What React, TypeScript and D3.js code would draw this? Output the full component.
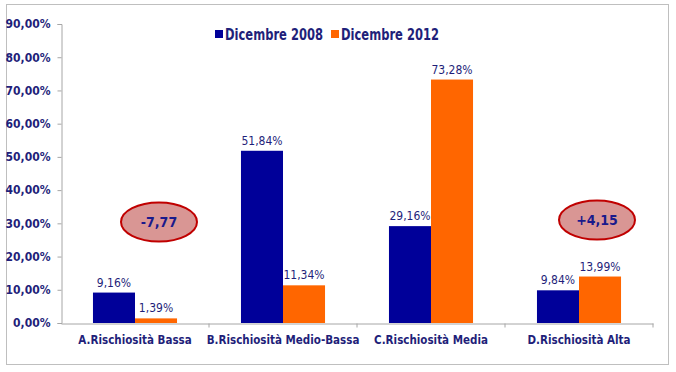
import React, { useEffect, useRef } from 'react';
import * as d3 from 'd3';

const categories = ['A.Rischiosità Bassa', 'B.Rischiosità Medio-Bassa', 'C.Rischiosità Media', 'D.Rischiosità Alta'];
const seriesNames = ['Dicembre 2008', 'Dicembre 2012'];
const dec2008 = [9.16, 51.84, 29.16, 9.84];
const dec2012 = [1.39, 11.34, 73.28, 13.99];
const yTicks = [0, 10, 20, 30, 40, 50, 60, 70, 80, 90];
const deltaLabels = ['-7,77', '+4,15'];
const deltaCategories = ['A.Rischiosità Bassa', 'D.Rischiosità Alta'];

const colors = ['#000099', '#FF6600'];
const textColor = '#1F1F7A';
const font = '"DejaVu Sans Condensed", "DejaVu Sans", sans-serif';

const fmt = (v: number) => v.toFixed(2).replace('.', ',') + '%';

const App: React.FC = () => {
  const ref = useRef<SVGSVGElement>(null);

  useEffect(() => {
    if (!ref.current) return;
    const svg = d3.select(ref.current);
    svg.selectAll('*').remove();

    const W = 676, H = 372;
    const plot = { left: 61, right: 653, top: 24, bottom: 323 };

    // chart frame
    svg.append('rect')
      .attr('x', 6.5).attr('y', 4.5)
      .attr('width', 662).attr('height', 360)
      .attr('fill', '#fff')
      .attr('stroke', '#BFBFBF')
      .attr('stroke-width', 1);

    const x = d3.scaleBand()
      .domain(categories)
      .range([plot.left, plot.right]);

    const y = d3.scaleLinear()
      .domain([0, 90])
      .range([plot.bottom, plot.top]);

    const barW = x.bandwidth() * 0.284;

    // y axis
    const yAxis = svg.append('g')
      .attr('transform', `translate(${plot.left + 0.5},0)`)
      .call(d3.axisLeft(y).tickValues(yTicks).tickSize(4).tickFormat(d => fmt(d as number)));
    yAxis.select('.domain').attr('stroke', '#A6A6A6');
    yAxis.selectAll('.tick line').attr('stroke', '#A6A6A6');
    yAxis.selectAll('.tick text')
      .attr('x', -11)
      .attr('fill', textColor)
      .style('font-family', font)
      .style('font-size', '12px')
      .style('font-weight', 'bold');

    // x axis
    const xAxis = svg.append('g')
      .attr('transform', `translate(0,${plot.bottom + 0.5})`)
      .call(d3.axisBottom(x).tickSize(0).tickSizeOuter(0));
    xAxis.select('.domain').attr('stroke', '#A6A6A6');
    xAxis.selectAll('.tick text')
      .attr('y', 12)
      .attr('fill', textColor)
      .style('font-family', font)
      .style('font-size', '11.5px')
      .style('font-weight', 'bold');
    // category separators
    xAxis.selectAll('.sep')
      .data(categories)
      .enter()
      .append('line')
      .attr('x1', d => (x(d) as number) + x.bandwidth())
      .attr('x2', d => (x(d) as number) + x.bandwidth())
      .attr('y1', 0).attr('y2', 4)
      .attr('stroke', '#A6A6A6');

    // bars
    const series = [dec2008, dec2012];
    series.forEach((vals, si) => {
      const g = svg.append('g');
      g.selectAll('rect')
        .data(vals)
        .enter()
        .append('rect')
        .attr('x', (_, i) => (x(categories[i]) as number) + x.bandwidth() / 2 - barW + si * barW)
        .attr('width', barW)
        .attr('y', d => y(d))
        .attr('height', d => y(0) - y(d))
        .attr('fill', colors[si]);

      g.selectAll('text')
        .data(vals)
        .enter()
        .append('text')
        .attr('x', (_, i) => (x(categories[i]) as number) + x.bandwidth() / 2 - barW / 2 + si * barW)
        .attr('y', d => y(d) - 6)
        .attr('text-anchor', 'middle')
        .attr('fill', textColor)
        .style('font-family', font)
        .style('font-size', '12px')
        .text(d => fmt(d));
    });

    // legend
    const legend = svg.append('g');
    const legendX = [215, 331];
    seriesNames.forEach((name, i) => {
      legend.append('rect')
        .attr('x', legendX[i]).attr('y', 30)
        .attr('width', 8).attr('height', 8)
        .attr('fill', colors[i]);
      legend.append('text')
        .attr('x', legendX[i] + 10).attr('y', 39.5)
        .attr('textLength', 98)
        .attr('lengthAdjust', 'spacingAndGlyphs')
        .attr('fill', textColor)
        .style('font-family', font)
        .style('font-size', '15px')
        .style('font-weight', 'bold')
        .text(name);
    });

    // delta bubbles
    const offsets = [24, 18];
    const levels = [30.4, 31];
    deltaLabels.forEach((lab, i) => {
      const cx = (x(deltaCategories[i]) as number) + x.bandwidth() / 2 + offsets[i];
      const cy = y(levels[i]);
      svg.append('ellipse')
        .attr('cx', cx).attr('cy', cy)
        .attr('rx', 38).attr('ry', 19.5)
        .attr('fill', '#D99694')
        .attr('stroke', '#C00000')
        .attr('stroke-width', 2);
      svg.append('text')
        .attr('x', cx).attr('y', cy + 5)
        .attr('text-anchor', 'middle')
        .attr('fill', '#1A1A8C')
        .style('font-family', font)
        .style('font-size', '14px')
        .style('font-weight', 'bold')
        .text(lab);
    });

    svg.attr('width', W).attr('height', H);
  }, []);

  return (
    <svg ref={ref} width={676} height={372} style={{ position: 'absolute', left: 0, top: 0 }}></svg>
  );
};

export default App;
